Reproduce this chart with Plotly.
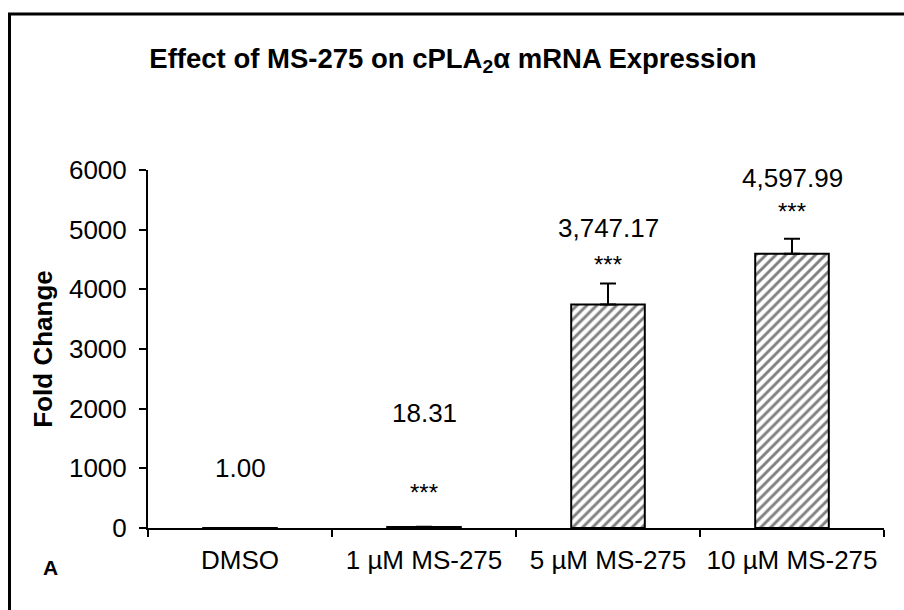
import plotly.graph_objects as go

categories = ["DMSO", "1 µM MS-275", "5 µM MS-275", "10 µM MS-275"]
fold_change = [1.00, 18.31, 3747.17, 4597.99]
errors = [0.5, 4.0, 350.0, 250.0]
value_labels = ["1.00", "18.31", "3,747.17", "4,597.99"]
significance = ["", "***", "***", "***"]
y_ticks = [0, 1000, 2000, 3000, 4000, 5000, 6000]

# pixel offsets above the error-bar top (layout only)
label_shift = [60, 114, 56, 61]
star_shift = [0, 34, 19, 27]

FONT = "Liberation Sans, Arial, Helvetica, sans-serif"

fig = go.Figure()
fig.add_trace(go.Bar(
    x=categories, y=fold_change, width=0.4,
    marker=dict(color="white", line=dict(color="black", width=2),
                pattern=dict(shape="/", size=7, solidity=0.42, fgcolor="black", bgcolor="white")),
    error_y=dict(type="data", array=errors, arrayminus=[0]*len(errors), symmetric=False,
                 color="black", thickness=2, width=8),
    showlegend=False,
))

for c, v, e, lab, st, ls, ss in zip(categories, fold_change, errors, value_labels, significance, label_shift, star_shift):
    fig.add_annotation(x=c, y=v + e, text=lab, showarrow=False, yshift=ls,
                       font=dict(family=FONT, size=26, color="black"))
    if st:
        fig.add_annotation(x=c, y=v + e, text=st, showarrow=False, yshift=ss,
                           font=dict(family=FONT, size=24, color="black"))

fig.add_annotation(xref="paper", yref="paper", x=(41 - 148) / 736, y=(528 - 581) / 358,
                   text="<b>A</b>", showarrow=False, font=dict(family=FONT, size=21, color="black"))

# outer frame (only top and left visible)
fig.add_shape(type="rect", xref="paper", yref="paper",
              x0=(9.5 - 148) / 736, x1=1.3, y0=-0.5, y1=(528 - 14) / 358,
              line=dict(color="black", width=3), fillcolor="rgba(0,0,0,0)")

fig.update_layout(
    width=904, height=610,
    margin=dict(l=148, r=20, t=170, b=82),
    paper_bgcolor="white", plot_bgcolor="white",
    font=dict(family=FONT, color="black"),
    title=dict(text="<b>Effect of MS-275 on cPLA<sub>2</sub>α mRNA Expression</b>",
               x=453 / 904, xanchor="center", y=1 - 58 / 610, yanchor="middle",
               font=dict(family=FONT, size=27.5, color="black")),
    xaxis=dict(type="category", showline=True, linecolor="black", linewidth=2,
               ticks="outside", tickson="boundaries", ticklen=7, tickwidth=2, tickcolor="black",
               ticklabelstandoff=8,
               tickfont=dict(family=FONT, size=26, color="black"), showgrid=False),
    yaxis=dict(range=[0, 6000], tickvals=y_ticks, showline=True, linecolor="black", linewidth=2,
               ticks="outside", ticklen=7, tickwidth=2, tickcolor="black",
               ticklabelstandoff=7,
               tickfont=dict(family=FONT, size=26, color="black"), showgrid=False, zeroline=False,
               title=dict(text="<b>Fold Change</b>", font=dict(family=FONT, size=26, color="black"),
                          standoff=9)),
    bargap=0.6,
)

fig.write_html("out.html")
